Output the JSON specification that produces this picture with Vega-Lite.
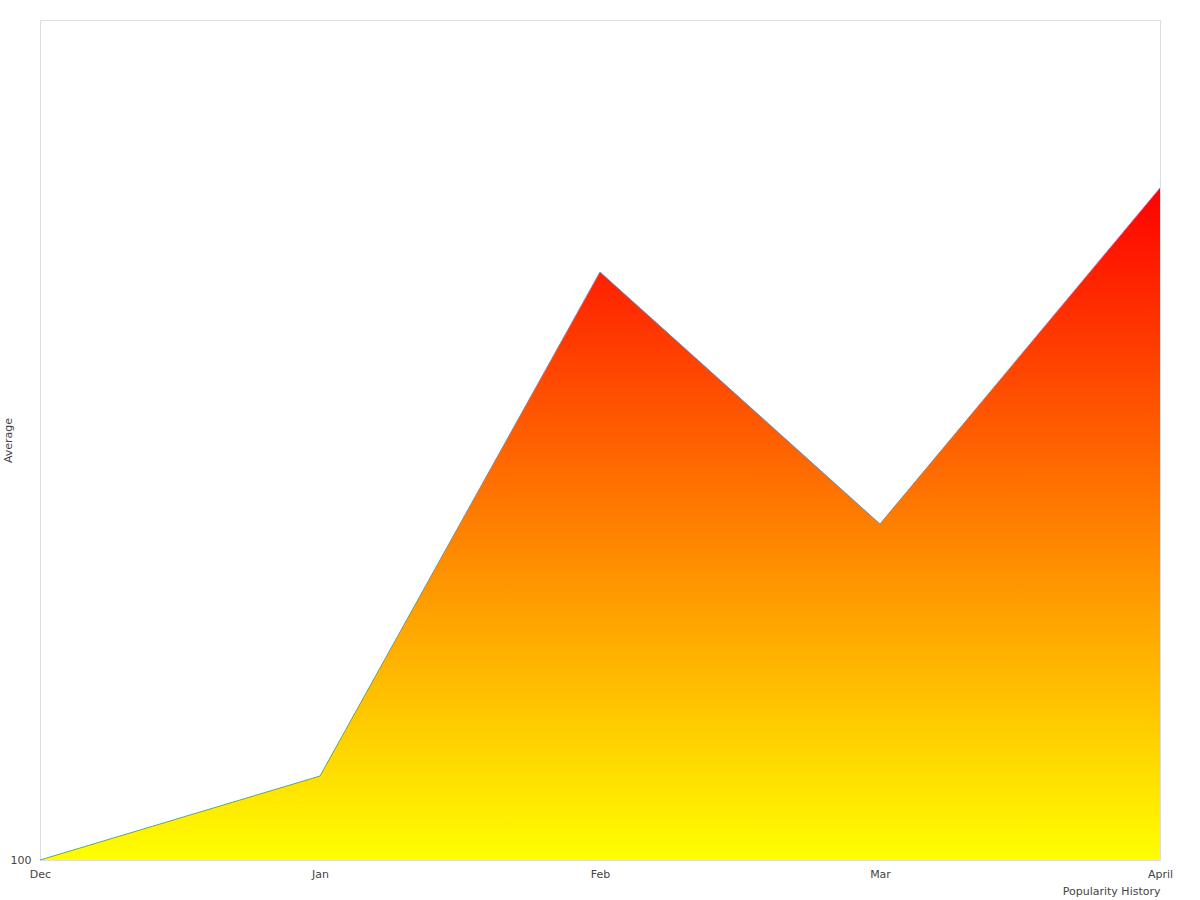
{
  "$schema": "https://vega.github.io/schema/vega-lite/v6.json",
  "width": 1120,
  "height": 840,
  "autosize": {"type": "none"},
  "padding": {"left": 40, "top": 20, "right": 40, "bottom": 40},
  "data": {
    "values": [
      {"month": "Dec", "average": 100},
      {"month": "Jan", "average": 110},
      {"month": "Feb", "average": 170},
      {"month": "Mar", "average": 140},
      {"month": "April", "average": 180}
    ]
  },
  "encoding": {
    "x": {
      "field": "month",
      "type": "ordinal",
      "sort": ["Dec", "Jan", "Feb", "Mar", "April"],
      "scale": {"type": "point", "padding": 0},
      "title": "Popularity History",
      "axis": {
        "labelAngle": 0,
        "domain": false,
        "ticks": false,
        "labelPadding": 8,
        "titleAnchor": "end",
        "titlePadding": 6,
        "titleFontWeight": "normal"
      }
    },
    "y": {
      "field": "average",
      "type": "quantitative",
      "scale": {"domain": [100, 200], "nice": false, "zero": false},
      "title": "Average",
      "axis": {
        "values": [100],
        "domain": false,
        "ticks": false,
        "grid": false,
        "labelPadding": 9,
        "titleX": -32,
        "titleY": 420,
        "titleAlign": "center",
        "titleBaseline": "middle",
        "titleFontWeight": "normal"
      }
    }
  },
  "layer": [
    {
      "mark": {
        "type": "area",
        "fill": {
          "gradient": "linear",
          "x1": 0, "y1": 1, "x2": 0, "y2": 0,
          "stops": [
            {"offset": 0, "color": "#ffff00"},
            {"offset": 1, "color": "#ff0000"}
          ]
        }
      },
      "encoding": {"y2": {"datum": 100}}
    },
    {
      "mark": {"type": "line", "color": "#4a9ae6", "strokeWidth": 1}
    }
  ],
  "config": {
    "font": "DejaVu Sans",
    "view": {"stroke": "#dddddd"},
    "axis": {
      "labelFont": "DejaVu Sans",
      "titleFont": "DejaVu Sans",
      "labelFontSize": 11,
      "titleFontSize": 11,
      "labelColor": "#444444",
      "titleColor": "#444444"
    }
  }
}
